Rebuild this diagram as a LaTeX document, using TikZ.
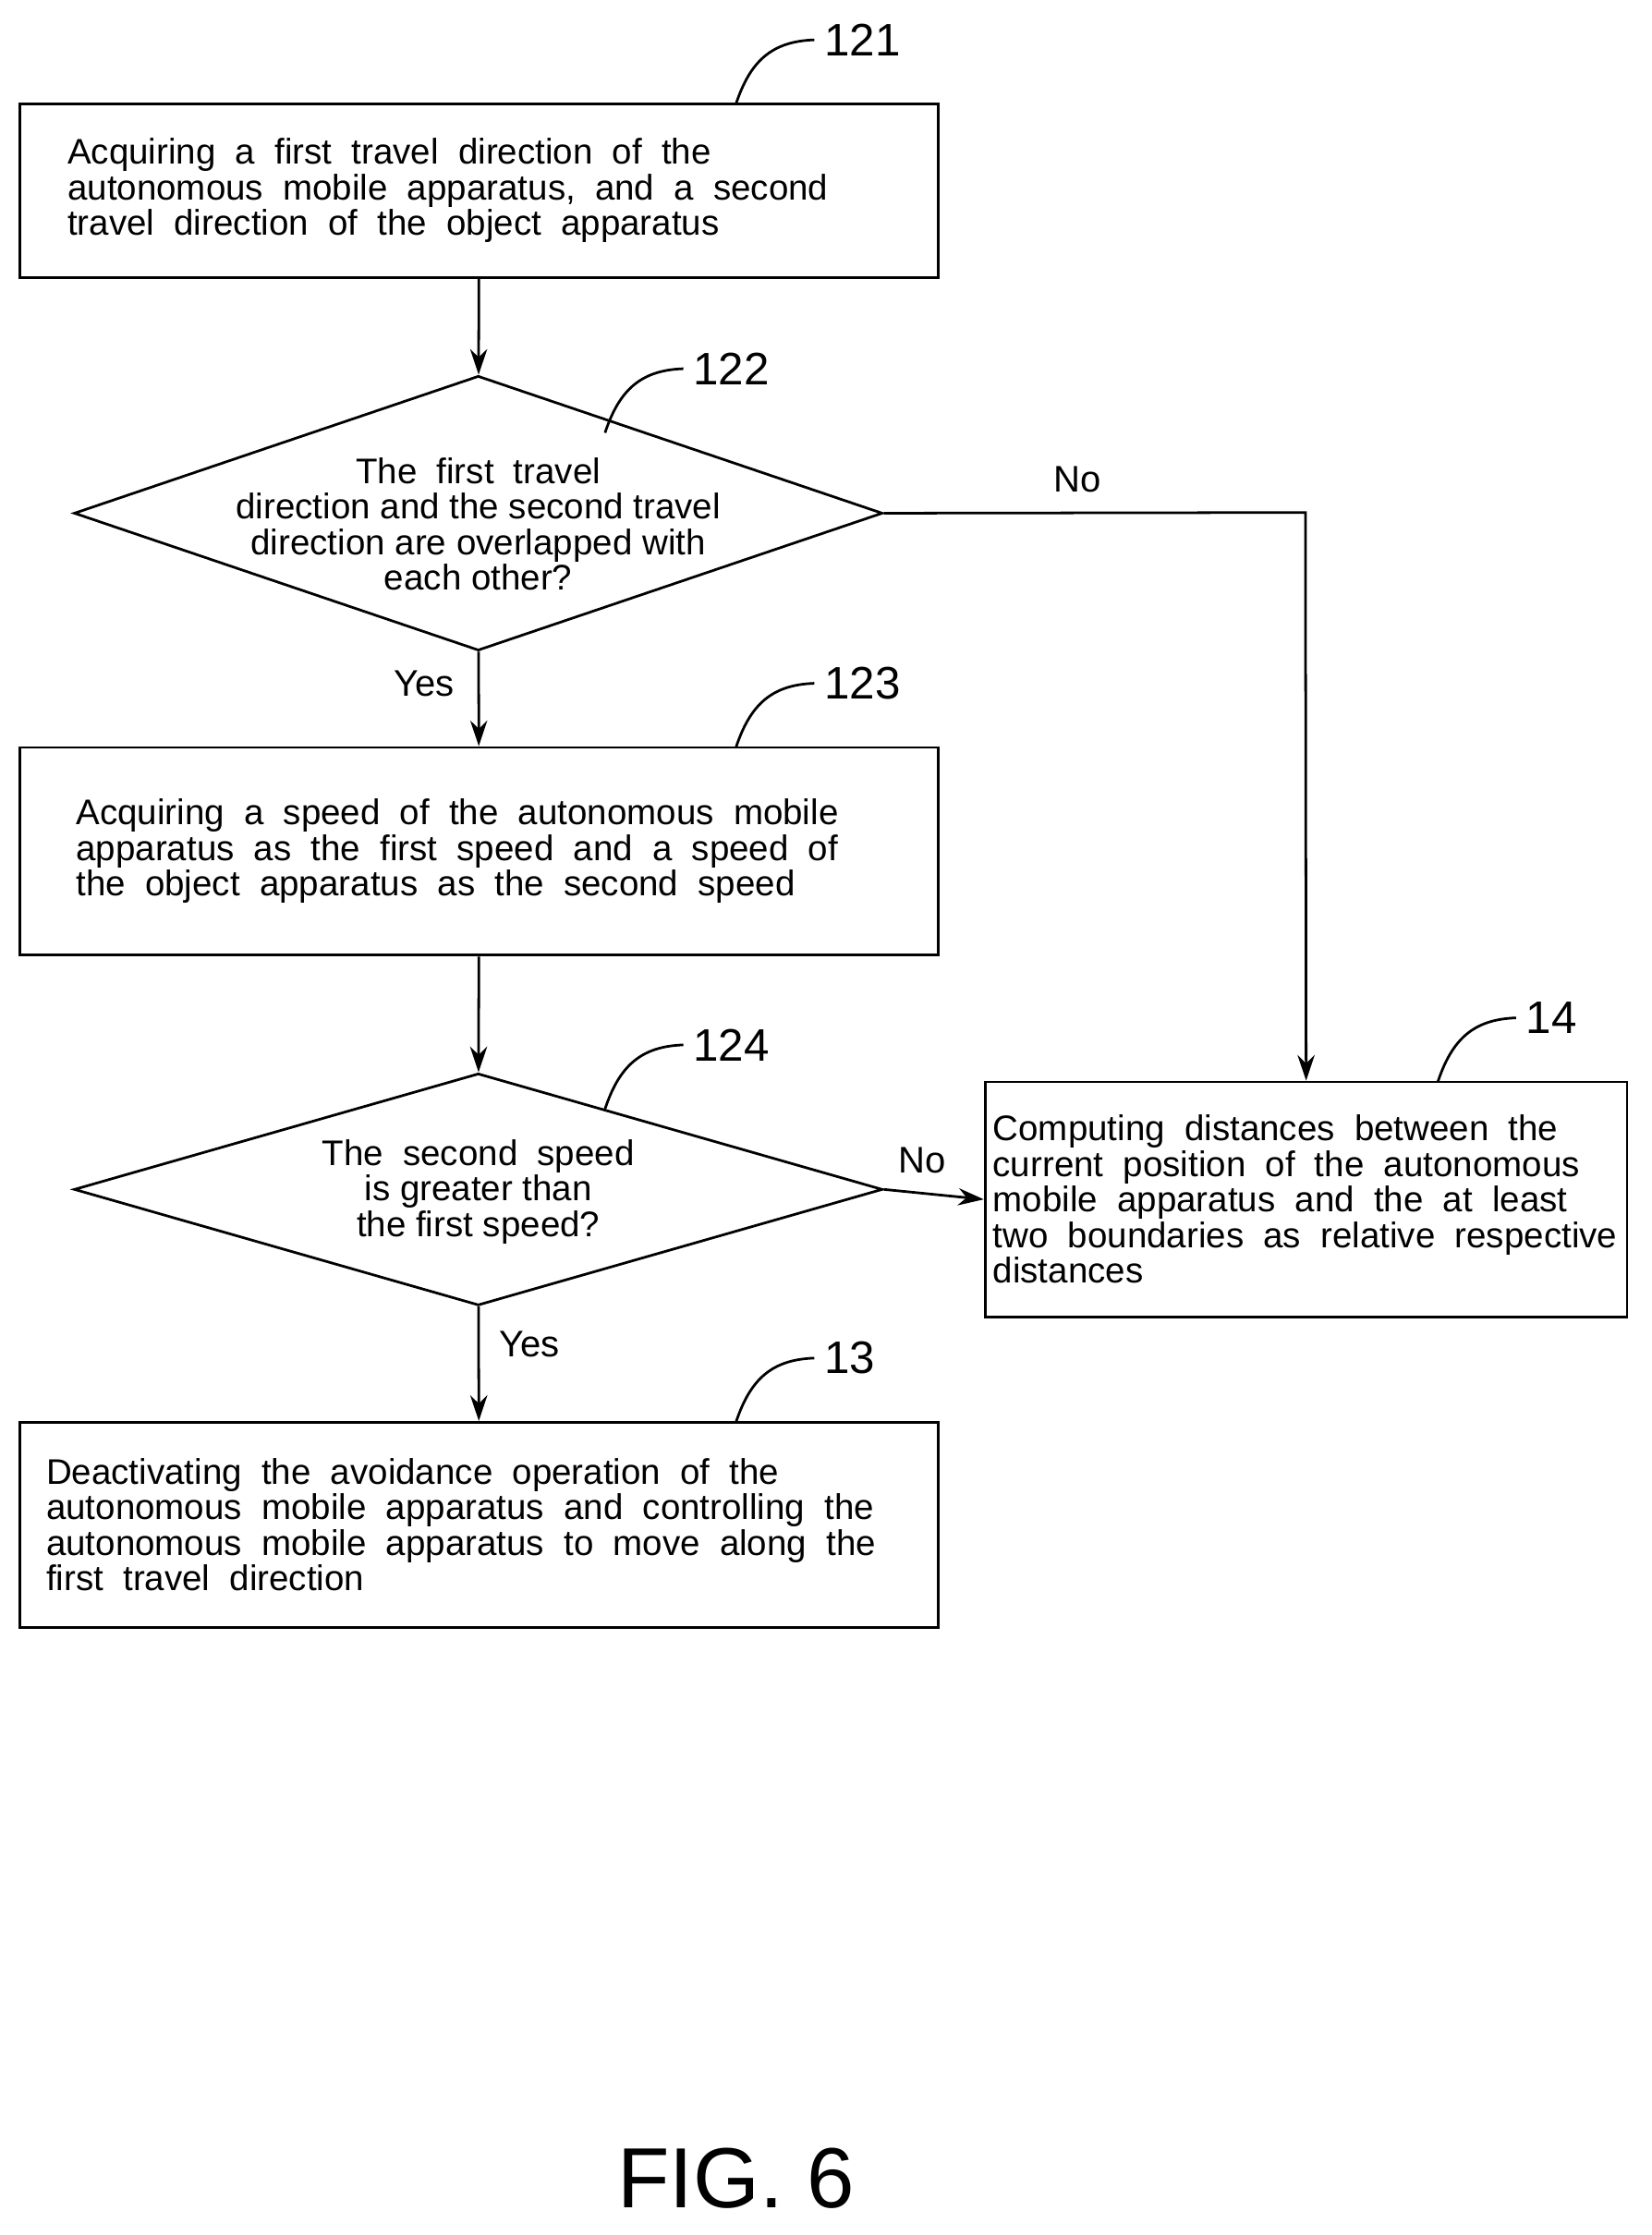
\documentclass[tikz,border=0pt]{standalone}
\usepackage{fontspec}
\setmainfont{Liberation Sans}
\usetikzlibrary{shapes.geometric,arrows.meta}
\newcommand\mywsp{\spaceskip=0.55em plus 0.2em\relax}
\begin{document}
\begin{tikzpicture}[x=0.5pt,y=-0.5pt,
 txt/.style={font=\fontsize{12.5}{12.5}\selectfont},
 box/.style={draw,line width=0.9pt,rectangle,txt,align=left,inner sep=0pt},
 dia/.style={draw,line width=0.9pt,diamond,aspect=2.94,inner sep=0pt},
 lab/.style={font=\fontsize{13}{13}\selectfont},
 num/.style={font=\fontsize{16}{16}\selectfont},
 ln/.style={line width=0.9pt},
 arr/.style={ln,-{Stealth[length=9pt,width=6pt]}}]
\useasboundingbox (0,0) rectangle (1160,1570);
\node[box,minimum width=322.5pt,minimum height=61pt] (b121) at (336.5,134) {\parbox{289pt}{\mywsp\raggedright Acquiring a first travel direction of the autonomous mobile apparatus, and a second travel direction of the object apparatus}};
\node[dia,minimum width=284pt,minimum height=96.5pt] (d122) at (336,360.5) {};
\node[txt,align=center] (t122) at (336,368) {\mywsp The first travel\\direction and the second travel\\direction are overlapped with\\each other?};
\node[box,minimum width=322.5pt,minimum height=73pt] (b123) at (336.5,598) {\parbox{283pt}{\mywsp\raggedright Acquiring a speed of the autonomous mobile apparatus as the first speed and a speed of the object apparatus as the second speed}};
\node[dia,minimum width=284pt,minimum height=81.5pt] (d124) at (336,835.5) {};
\node[txt,align=center] (t124) at (336,837) {\mywsp The second speed\\is greater than\\the first speed?};
\node[box,minimum width=322.5pt,minimum height=72pt] (b13) at (336.5,1071) {\parbox{304pt}{\mywsp\raggedright Deactivating the avoidance operation of the autonomous mobile apparatus and controlling the autonomous mobile apparatus to move along the first travel direction}};
\node[box,minimum width=225.5pt,minimum height=82.5pt] (b14) at (917.5,842.5) {\parbox{220pt}{\mywsp\raggedright Computing distances between the current position of the autonomous mobile apparatus and the at least two boundaries as relative respective distances}};
\draw[arr] (b121) -- (d122);
\draw[arr] (d122) -- (b123);
\draw[arr] (b123) -- (d124);
\draw[arr] (d124) -- (b13);
\draw[arr] (d124.east) -- (b14.west);
\coordinate (c1) at (917,360);
\draw[arr] (d122.east) -- (c1) -- (b14.north);
\node[lab] (no1) at (757,337) {No};
\node[lab] (no2) at (648,815) {No};
\node[lab] (y1) at (298,480) {Yes};
\node[lab] (y2) at (372,944) {Yes};
\foreach \n/\x/\y/\t in {n121/517/73/121,n122/425/304/122,n123/517/525/123,n124/425/779/124,n13/517/999/13,n14/1010/760/14}{
 \coordinate (\n a) at (\x,\y);
 \node[num,anchor=west] (\n) at (\x+55,\y-45) {\t};
 \draw[ln] (\n a) .. controls (\x+10,\y-30) and (\x+25,\y-44) .. (\n.west);
}
\node[font=\fontsize{30}{30}\selectfont] (fig) at (517,1530) {FIG. 6};
\end{tikzpicture}
\end{document}
